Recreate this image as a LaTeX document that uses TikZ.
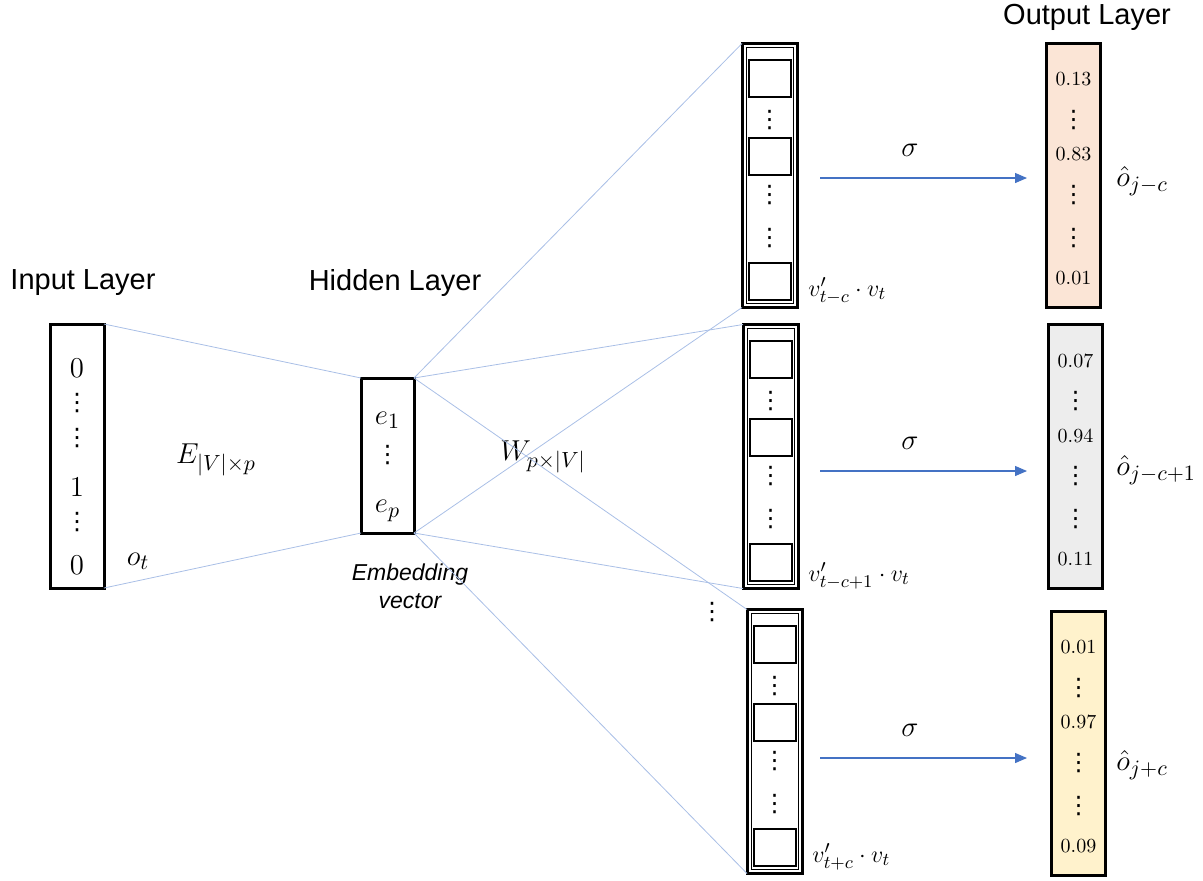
\documentclass[tikz,border=0pt]{standalone}
\usepackage{amsmath,amssymb}
\usepackage{fontspec}
\setsansfont{Liberation Sans}
\newfontfamily\dotfont{DejaVu Sans}
\usepackage{tikz}
\usetikzlibrary{arrows.meta}

\definecolor{linkblue}{HTML}{A9BFE6}
\definecolor{arrowblue}{HTML}{4472C4}
\definecolor{outpeach}{HTML}{FBE5D6}
\definecolor{outgray}{HTML}{EDEDED}
\definecolor{outyellow}{HTML}{FFF2CC}

\begin{document}
\begin{tikzpicture}[x=0.5pt,y=-0.5pt,
  layerbox/.style={draw,line width=1.5pt,inner sep=0pt,outer sep=0pt,
                   minimum width=27pt,minimum height=132pt},
  cellbox/.style={draw,line width=1pt,inner sep=0pt,minimum width=21pt,minimum height=18.5pt},
  link/.style={linkblue,line width=0.4pt},
  sigarrow/.style={arrowblue,line width=0.6pt,-{Triangle[length=6pt,width=5pt]}},
  title/.style={font=\fontsize{14.5}{17}\selectfont\sffamily},
  mlabel/.style={font=\fontsize{15}{17}\selectfont,inner sep=1pt},
  vdot/.style={font=\fontsize{12}{14}\selectfont\dotfont,inner sep=0pt},
  slabel/.style={font=\fontsize{12.5}{14}\selectfont,anchor=west,inner sep=1pt},
  val/.style={font=\fontsize{10}{12}\selectfont,inner sep=1pt}]
  \useasboundingbox (0,0) rectangle (1203,880);

  % titles
  \node[title] (tin)  at (83,283)   {Input Layer};
  \node[title] (thid) at (395,283)  {Hidden Layer};
  \node[title] (tout) at (1087,17)  {Output Layer};

  % input layer
  \node[layerbox] (inp) at (77,456) {};
  \node[mlabel] (i1) at (77,368) {$0$};
  \node[vdot] (i2) at (77,403) {⋮};
  \node[vdot] (i3) at (77,438) {⋮};
  \node[mlabel] (i4) at (77,487) {$1$};
  \node[vdot] (i5) at (77,522) {⋮};
  \node[mlabel] (i6) at (77,565) {$0$};
  \node[mlabel] (ot) at (138,561) {$o_t$};
  \node[mlabel] (emat) at (216,460) {$E_{|V|\times p}$};

  % hidden layer
  \node[layerbox,minimum width=26.5pt,minimum height=77.5pt] (hid) at (387.5,455.5) {};
  \node[mlabel] (e1) at (387.5,420) {$e_1$};
  \node[vdot] (ed) at (387.5,455) {⋮};
  \node[mlabel] (ep) at (387.5,511) {$e_p$};
  \node[font=\fontsize{11.5}{14}\selectfont\sffamily\itshape,align=center] (emb) at (410,586)
       {Embedding\\vector};
  \node[mlabel] (wmat) at (543,457) {$W_{p\times|V|}$};

  % score vectors
  \foreach \b/\x/\y/\ay in {1/769.5/175.5/2.5, 2/770.5/456.5/14.5, 3/774.5/741.5/16.5}{
    \node[layerbox,minimum width=27.5pt] (m\b) at (\x,\y) {};
    \draw[line width=0.5pt] ([shift={(4,4)}]m\b.north west) rectangle ([shift={(-4,-4)}]m\b.south east);
    \node[cellbox] (m\b c1) at (\x,{\y-97}) {};
    \node[cellbox] (m\b c2) at (\x,{\y-19}) {};
    \node[cellbox] (m\b c3) at (\x,{\y+106}) {};
    \node[vdot] (m\b d1) at (\x,{\y-55}) {⋮};
    \node[vdot] (m\b d2) at (\x,{\y+20}) {⋮};
    \node[vdot] (m\b d3) at (\x,{\y+63}) {⋮};
    \coordinate (a\b s) at (820,{\y+\ay});
    \coordinate (a\b e) at (1027,{\y+\ay});
    \draw[sigarrow] (a\b s) -- (a\b e);
    \node[mlabel] (sig\b) at (910,{\y+\ay-28}) {$\sigma$};
  }
  \node[slabel] (v1) at (806,291) {$v'_{t-c}\cdot v_t$};
  \node[slabel] (v2) at (806,576) {$v'_{t-c+1}\cdot v_t$};
  \node[slabel] (v3) at (810,857) {$v'_{t+c}\cdot v_t$};
  \node[vdot] (mdots) at (712,612) {⋮};

  % output layer
  \foreach \b/\x/\y/\fc/\va/\vb/\vc in {1/1073.5/175/outpeach/0.13/0.83/0.01,
      2/1075.5/456.5/outgray/0.07/0.94/0.11, 3/1078.5/743/outyellow/0.01/0.97/0.09}{
    \node[layerbox,fill=\fc] (o\b) at (\x,\y) {};
    \node[val] (o\b v1) at (\x,{\y-96}) {\va};
    \node[vdot] (o\b d1) at (\x,{\y-55}) {⋮};
    \node[val] (o\b v2) at (\x,{\y-21}) {\vb};
    \node[vdot] (o\b d2) at (\x,{\y+20}) {⋮};
    \node[vdot] (o\b d3) at (\x,{\y+63}) {⋮};
    \node[val] (o\b v3) at (\x,{\y+103}) {\vc};
  }
  \node[mlabel,anchor=west] (y1) at (1114,181) {$\hat{o}_{j-c}$};
  \node[mlabel,anchor=west] (y2) at (1114,470) {$\hat{o}_{j-c+1}$};
  \node[mlabel,anchor=west] (y3) at (1114,765) {$\hat{o}_{j+c}$};

  % weights
  \draw[link] (inp.north east) -- (hid.north west);
  \draw[link] (inp.south east) -- (hid.south west);
  \draw[link] (hid.north east) -- (m1.north west);
  \draw[link] (hid.south east) -- (m1.south west);
  \draw[link] (hid.north east) -- (m2.north west);
  \draw[link] (hid.south east) -- (m2.south west);
  \draw[link] (hid.north east) -- (m3.north west);
  \draw[link] (hid.south east) -- (m3.south west);
\end{tikzpicture}
\end{document}
